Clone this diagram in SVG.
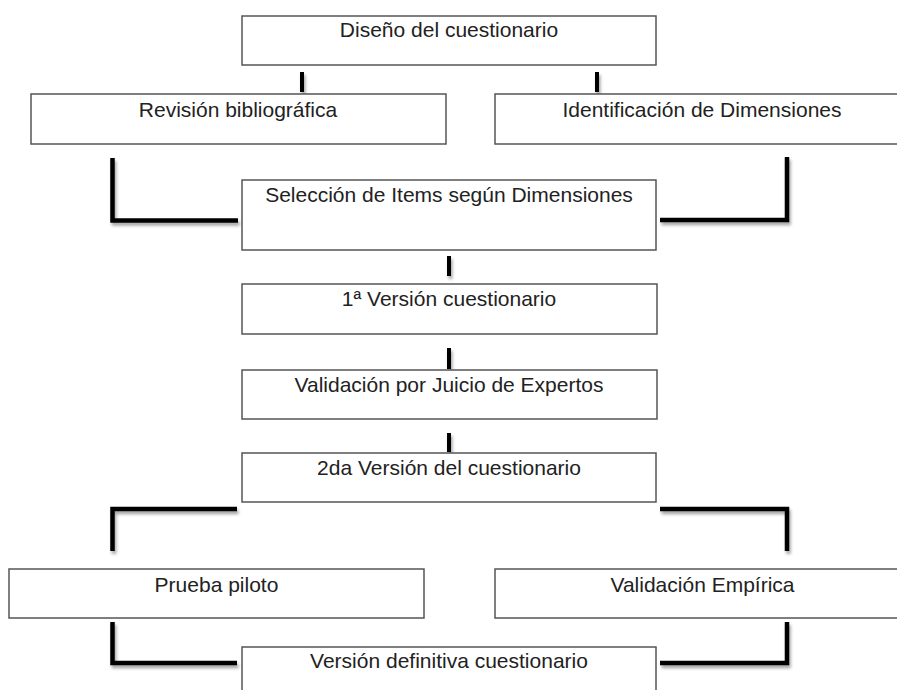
<svg xmlns="http://www.w3.org/2000/svg" width="897" height="690" viewBox="0 0 897 690">
<style>
.box{fill:#fff;stroke:#555;stroke-width:1.5}
.lbl{font-family:"Liberation Sans",Arial,sans-serif;font-size:21px;fill:#222;text-anchor:middle}
.con{fill:none;stroke:#000;stroke-width:4.5;stroke-linejoin:miter;filter:url(#sh)}
.tick{fill:none;stroke:#000;stroke-width:4;filter:url(#sh)}
</style>
<defs>
<filter id="sh" filterUnits="userSpaceOnUse" x="0" y="0" width="897" height="690">
<feDropShadow dx="1.5" dy="3" stdDeviation="1.8" flood-color="#000" flood-opacity="0.35"/>
</filter>
</defs>
<rect width="897" height="690" fill="#fff"/>
<g id="connectors">
<line class="tick" x1="302" y1="72" x2="302" y2="92"/>
<line class="tick" x1="597" y1="72" x2="597" y2="92"/>
<polyline class="con" points="112.5,158 112.5,220.5 238,220.5"/>
<polyline class="con" points="660,220 787,220 787,157"/>
<line class="tick" x1="449" y1="256" x2="449" y2="276"/>
<line class="tick" x1="449" y1="348" x2="449" y2="369"/>
<line class="tick" x1="449" y1="433" x2="449" y2="452"/>
<polyline class="con" points="237,509 112.5,509 112.5,551"/>
<polyline class="con" points="660,509 787,509 787,551"/>
<polyline class="con" points="112.5,622 112.5,663 237,663"/>
<polyline class="con" points="787,622 787,663 660,663"/>
</g>
<g id="n1"><rect class="box" x="242" y="16" width="414" height="49"/><text class="lbl" x="449" y="37">Diseño del cuestionario</text></g>
<g id="n2"><rect class="box" x="31" y="94" width="415" height="50"/><text class="lbl" x="238" y="117">Revisión bibliográfica</text></g>
<g id="n3"><rect class="box" x="495" y="94" width="415" height="50"/><text class="lbl" x="702" y="117">Identificación de Dimensiones</text></g>
<g id="n4"><rect class="box" x="242" y="180" width="414" height="70"/><text class="lbl" x="449" y="202">Selección de Items según Dimensiones</text></g>
<g id="n5"><rect class="box" x="242" y="284" width="415" height="50"/><text class="lbl" x="449" y="306">1ª Versión cuestionario</text></g>
<g id="n6"><rect class="box" x="242" y="370" width="415" height="49"/><text class="lbl" x="449" y="392">Validación por Juicio de Expertos</text></g>
<g id="n7"><rect class="box" x="242" y="453" width="414" height="49"/><text class="lbl" x="449" y="475">2da Versión del cuestionario</text></g>
<g id="n8"><rect class="box" x="9" y="569" width="415" height="49"/><text class="lbl" x="216.5" y="592">Prueba piloto</text></g>
<g id="n9"><rect class="box" x="495" y="569" width="415" height="49"/><text class="lbl" x="702.5" y="592">Validación Empírica</text></g>
<g id="n10"><rect class="box" x="242" y="647" width="414" height="60"/><text class="lbl" x="449" y="668">Versión definitiva cuestionario</text></g>
</svg>
